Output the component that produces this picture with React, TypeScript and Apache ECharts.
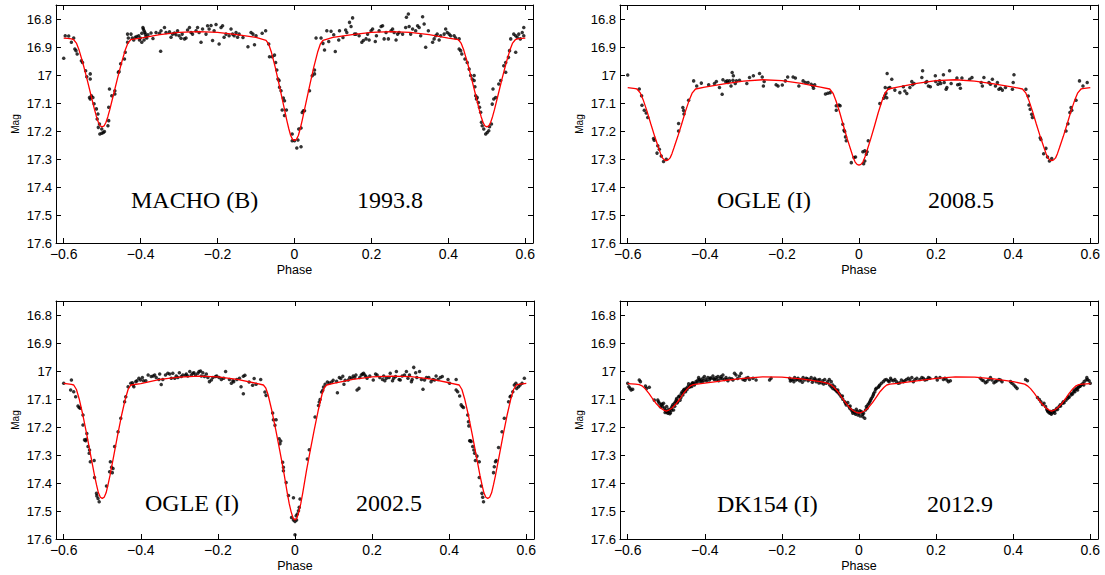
import React, { useEffect, useRef } from "react";
import * as echarts from "echarts";

// ---------- tick values ----------
const phaseTicks = [-0.6, -0.4, -0.2, 0, 0.2, 0.4, 0.6];
const magTicks = [16.8, 16.9, 17, 17.1, 17.2, 17.3, 17.4, 17.5, 17.6];

// ---------- panel labels ----------
const panelSurveys = ["MACHO (B)", "OGLE (I)", "OGLE (I)", "DK154 (I)"];
const panelEpochs = ["1993.8", "2008.5", "2002.5", "2012.9"];

// ---------- MACHO (B) 1993.8 ----------
const macho1993Curve = [
  [-0.6, 16.868], [-0.59, 16.869], [-0.58, 16.871], [-0.574, 16.874], [-0.567, 16.886], [-0.56, 16.911], [-0.55, 16.958], [-0.54, 17.011], [-0.53, 17.067], [-0.52, 17.123], [-0.515, 17.148], [-0.51, 17.169], [-0.505, 17.182], [-0.5, 17.185], [-0.495, 17.182], [-0.49, 17.169], [-0.485, 17.148], [-0.48, 17.123], [-0.47, 17.067], [-0.46, 17.011], [-0.45, 16.958], [-0.44, 16.911], [-0.433, 16.886], [-0.426, 16.874],
  [-0.4, 16.868], [-0.35, 16.856], [-0.3, 16.848], [-0.25, 16.845], [-0.2, 16.848], [-0.15, 16.856], [-0.1, 16.866], [-0.074, 16.876],
  [-0.067, 16.89], [-0.06, 16.919], [-0.05, 16.973], [-0.04, 17.034], [-0.03, 17.098], [-0.02, 17.162], [-0.015, 17.191], [-0.01, 17.216], [-0.005, 17.23], [0, 17.234], [0.005, 17.23], [0.01, 17.216], [0.015, 17.191], [0.02, 17.162], [0.03, 17.098], [0.04, 17.034], [0.05, 16.973], [0.06, 16.919], [0.067, 16.89], [0.074, 16.876],
  [0.1, 16.866], [0.15, 16.856], [0.2, 16.848], [0.25, 16.845], [0.3, 16.848], [0.35, 16.856], [0.4, 16.868], [0.426, 16.874],
  [0.433, 16.886], [0.44, 16.911], [0.45, 16.958], [0.46, 17.011], [0.47, 17.067], [0.48, 17.123], [0.485, 17.148], [0.49, 17.169], [0.495, 17.182], [0.5, 17.185], [0.505, 17.182], [0.51, 17.169], [0.515, 17.148], [0.52, 17.123], [0.53, 17.067], [0.54, 17.011], [0.55, 16.958], [0.56, 16.911], [0.567, 16.886], [0.574, 16.874], [0.58, 16.871], [0.59, 16.869], [0.6, 16.868],
];
const macho1993Points = [
  [-0.6, 16.94], [-0.596, 16.86], [-0.587, 16.861], [-0.574, 16.868], [-0.58, 16.883], [-0.571, 16.907], [-0.568, 16.913], [-0.565, 16.925], [-0.554, 16.949], [-0.551, 16.955], [-0.543, 16.985], [-0.54, 17.006], [-0.531, 16.996], [-0.531, 17.014], [-0.533, 17.08], [-0.528, 17.074], [-0.531, 17.086], [-0.524, 17.08], [-0.521, 17.103], [-0.515, 17.121], [-0.511, 17.139], [-0.513, 17.157], [-0.507, 17.175], [-0.51, 17.187], [-0.506, 17.211], [-0.501, 17.208], [-0.497, 17.205], [-0.494, 17.202], [-0.501, 17.193], [-0.485, 17.181], [-0.483, 17.163], [-0.483, 17.115], [-0.481, 17.05], [-0.475, 17.074], [-0.467, 17.068], [-0.467, 17.056], [-0.458, 16.99], [-0.456, 16.988], [-0.452, 16.96], [-0.442, 16.943], [-0.44, 16.919], [-0.434, 16.854], [-0.432, 16.868], [-0.434, 16.883],
  [-0.425, 16.854], [-0.422, 16.868], [-0.418, 16.875], [-0.414, 16.865], [-0.41, 16.863], [-0.405, 16.86], [-0.403, 16.875], [-0.401, 16.868], [-0.397, 16.851], [-0.394, 16.83], [-0.393, 16.836], [-0.391, 16.842], [-0.389, 16.848], [-0.388, 16.854], [-0.386, 16.863], [-0.384, 16.868], [-0.391, 16.875], [-0.397, 16.883], [-0.381, 16.856], [-0.373, 16.85], [-0.368, 16.87], [-0.36, 16.848], [-0.351, 16.851], [-0.347, 16.842], [-0.348, 16.915], [-0.338, 16.83], [-0.334, 16.848], [-0.325, 16.846], [-0.321, 16.865], [-0.317, 16.854], [-0.312, 16.85], [-0.308, 16.856], [-0.304, 16.842], [-0.3, 16.86], [-0.295, 16.869], [-0.292, 16.854], [-0.286, 16.871], [-0.282, 16.868], [-0.278, 16.839], [-0.273, 16.83], [-0.269, 16.848], [-0.265, 16.854], [-0.256, 16.842], [-0.252, 16.83], [-0.248, 16.848], [-0.243, 16.883], [-0.239, 16.836], [-0.23, 16.854], [-0.226, 16.824], [-0.222, 16.836], [-0.217, 16.823], [-0.213, 16.877], [-0.209, 16.842], [-0.204, 16.82], [-0.196, 16.889], [-0.191, 16.83], [-0.187, 16.824], [-0.183, 16.865], [-0.178, 16.854], [-0.17, 16.86], [-0.165, 16.836], [-0.161, 16.854], [-0.157, 16.86], [-0.152, 16.848], [-0.148, 16.865], [-0.144, 16.854],
  [-0.134, 16.866], [-0.121, 16.899], [-0.113, 16.848], [-0.108, 16.854], [-0.104, 16.892], [-0.1, 16.86], [-0.084, 16.851], [-0.075, 16.842], [-0.067, 16.889], [-0.065, 16.935], [-0.058, 16.935], [-0.052, 16.929], [-0.049, 16.955], [-0.046, 16.982], [-0.043, 17.014], [-0.04, 17.02], [-0.039, 17.044], [-0.035, 17.056], [-0.029, 17.082], [-0.026, 17.092], [-0.032, 17.125], [-0.021, 17.125], [-0.026, 17.145], [-0.006, 17.211], [-0.006, 17.235], [0, 17.235], [0.009, 17.232], [0.006, 17.261], [0.017, 17.256], [0.011, 17.193], [0.017, 17.189], [0.02, 17.134], [0.023, 17.128], [0.026, 17.128], [0.039, 17.056], [0.046, 17.003], [0.052, 16.982], [0.052, 16.996], [0.056, 16.868], [0.069, 16.868], [0.074, 16.887], [0.078, 16.911], [0.084, 16.842], [0.095, 16.844], [0.089, 16.88], [0.102, 16.856], [0.106, 16.916], [0.115, 16.875], [0.117, 16.842], [0.126, 16.866], [0.133, 16.839], [0.136, 16.848],
  [0.143, 16.812], [0.147, 16.827], [0.151, 16.796], [0.156, 16.854], [0.16, 16.854], [0.168, 16.86], [0.175, 16.883], [0.179, 16.877], [0.186, 16.871], [0.19, 16.854], [0.194, 16.875], [0.199, 16.842], [0.203, 16.836], [0.21, 16.88], [0.213, 16.86], [0.22, 16.842], [0.225, 16.827], [0.229, 16.824], [0.233, 16.871], [0.238, 16.848], [0.244, 16.871], [0.251, 16.842], [0.255, 16.836], [0.259, 16.848], [0.264, 16.875], [0.268, 16.854], [0.272, 16.848], [0.281, 16.854], [0.289, 16.83], [0.291, 16.794], [0.296, 16.782], [0.298, 16.827], [0.302, 16.854], [0.307, 16.836], [0.315, 16.842], [0.32, 16.824], [0.324, 16.83], [0.328, 16.86], [0.333, 16.792], [0.337, 16.818], [0.341, 16.901], [0.348, 16.842], [0.359, 16.883], [0.363, 16.871], [0.367, 16.86], [0.371, 16.854], [0.376, 16.875], [0.38, 16.86], [0.389, 16.854], [0.393, 16.836], [0.397, 16.848], [0.402, 16.854], [0.406, 16.86], [0.415, 16.86], [0.419, 16.868], [0.428, 16.871],
  [0.428, 16.907], [0.432, 16.913], [0.435, 16.925], [0.443, 16.943], [0.449, 16.955], [0.454, 16.979], [0.458, 17.002], [0.462, 17.014], [0.467, 17.002], [0.467, 17.02], [0.469, 17.042], [0.471, 17.074], [0.473, 17.086], [0.475, 17.08], [0.478, 17.098], [0.481, 17.115], [0.484, 17.133], [0.486, 17.169], [0.488, 17.181], [0.492, 17.193], [0.497, 17.211], [0.501, 17.205], [0.505, 17.199], [0.507, 17.185], [0.512, 17.175], [0.514, 17.104], [0.516, 17.05], [0.518, 17.086], [0.523, 17.08], [0.531, 17.032], [0.536, 17.02], [0.544, 16.967], [0.549, 16.99], [0.549, 16.955], [0.556, 16.937], [0.559, 16.913], [0.562, 16.871], [0.57, 16.854], [0.575, 16.86], [0.579, 16.865], [0.583, 16.854], [0.587, 16.871], [0.592, 16.848], [0.596, 16.83], [0.575, 16.919], [0.596, 16.86],
];

// ---------- OGLE (I) 2008.5 ----------
const ogle2008Curve = [
  [-0.6, 17.045], [-0.59, 17.047], [-0.58, 17.049], [-0.576, 17.05], [-0.567, 17.065], [-0.56, 17.088], [-0.55, 17.129], [-0.54, 17.175], [-0.53, 17.219], [-0.52, 17.26], [-0.515, 17.28], [-0.51, 17.296], [-0.505, 17.303], [-0.5, 17.306], [-0.495, 17.303], [-0.49, 17.296], [-0.485, 17.28], [-0.48, 17.26], [-0.47, 17.219], [-0.46, 17.175], [-0.45, 17.129], [-0.44, 17.088], [-0.433, 17.065], [-0.424, 17.05],
  [-0.4, 17.043], [-0.35, 17.032], [-0.3, 17.022], [-0.25, 17.017], [-0.2, 17.02], [-0.15, 17.03], [-0.1, 17.043], [-0.076, 17.05],
  [-0.067, 17.066], [-0.06, 17.091], [-0.05, 17.134], [-0.04, 17.183], [-0.03, 17.23], [-0.02, 17.273], [-0.015, 17.295], [-0.01, 17.311], [-0.005, 17.319], [0, 17.322], [0.005, 17.319], [0.01, 17.311], [0.015, 17.295], [0.02, 17.273], [0.03, 17.23], [0.04, 17.183], [0.05, 17.134], [0.06, 17.091], [0.067, 17.066], [0.076, 17.05],
  [0.1, 17.043], [0.15, 17.03], [0.2, 17.02], [0.25, 17.017], [0.3, 17.022], [0.35, 17.032], [0.4, 17.043], [0.424, 17.05],
  [0.433, 17.065], [0.44, 17.088], [0.45, 17.129], [0.46, 17.175], [0.47, 17.219], [0.48, 17.26], [0.485, 17.28], [0.49, 17.296], [0.495, 17.303], [0.5, 17.306], [0.505, 17.303], [0.51, 17.296], [0.515, 17.28], [0.52, 17.26], [0.53, 17.219], [0.54, 17.175], [0.55, 17.129], [0.56, 17.088], [0.567, 17.065], [0.576, 17.05], [0.58, 17.049], [0.59, 17.047], [0.6, 17.045],
];
const ogle2008Points = [
  [-0.6, 17.0], [-0.57, 17.05], [-0.564, 17.074], [-0.563, 17.108], [-0.557, 17.126], [-0.552, 17.136], [-0.548, 17.152], [-0.533, 17.227], [-0.531, 17.233], [-0.522, 17.253], [-0.518, 17.265], [-0.524, 17.279], [-0.513, 17.289], [-0.507, 17.309], [-0.5, 17.301], [-0.468, 17.173], [-0.468, 17.2], [-0.457, 17.116], [-0.455, 17.127], [-0.454, 17.139], [-0.442, 17.09],
  [-0.429, 17.021], [-0.421, 17.039], [-0.409, 17.029], [-0.39, 17.035], [-0.375, 17.03], [-0.37, 17.023], [-0.362, 17.045], [-0.355, 17.069], [-0.353, 17.017], [-0.346, 17.023], [-0.342, 17.021], [-0.34, 17.027], [-0.336, 17.021], [-0.332, 17.039], [-0.329, 16.991], [-0.327, 17.019], [-0.326, 17.003], [-0.321, 17.03], [-0.318, 17.021], [-0.31, 17.019], [-0.291, 17.03], [-0.284, 17.009], [-0.274, 17.003], [-0.258, 16.995], [-0.251, 17.007], [-0.248, 17.039], [-0.246, 17.023], [-0.215, 17.035], [-0.21, 17.039], [-0.199, 17.036], [-0.191, 17.021], [-0.185, 17.007], [-0.171, 17.007], [-0.165, 17.011], [-0.156, 17.039], [-0.145, 17.021], [-0.139, 17.027], [-0.132, 17.027], [-0.124, 17.033], [-0.12, 17.039], [-0.118, 17.047], [-0.115, 17.035],
  [-0.087, 17.068], [-0.081, 17.065], [-0.075, 17.063], [-0.059, 17.11], [-0.052, 17.107], [-0.059, 17.126], [-0.049, 17.11], [-0.042, 17.176], [-0.039, 17.197], [-0.037, 17.202], [-0.033, 17.235], [-0.035, 17.221], [-0.02, 17.313], [-0.013, 17.295], [-0.009, 17.293], [0.01, 17.274], [0.015, 17.271], [0.019, 17.283], [0.021, 17.274], [0.015, 17.307], [0.012, 17.317], [0.024, 17.235],
  [0.054, 17.102], [0.064, 17.083], [0.067, 17.074], [0.07, 17.065], [0.072, 17.081], [0.068, 17.045], [0.076, 17.047], [0.073, 16.995], [0.085, 17.015], [0.08, 17.045], [0.093, 17.054], [0.106, 17.063], [0.115, 17.042], [0.119, 17.057], [0.124, 17.066], [0.132, 17.045], [0.137, 17.023], [0.139, 17.035], [0.143, 17.03],
  [0.163, 17.009], [0.165, 16.985], [0.173, 17.027], [0.176, 17.023], [0.18, 17.039], [0.185, 17.042], [0.198, 17.003], [0.199, 17.023], [0.205, 17.033], [0.209, 17.021], [0.212, 17.03], [0.219, 16.999], [0.221, 17.027], [0.226, 17.051], [0.228, 17.045], [0.235, 16.985], [0.239, 17.03], [0.254, 17.011], [0.256, 17.035], [0.261, 17.033], [0.263, 17.047], [0.267, 17.011], [0.287, 17.015], [0.293, 17.009], [0.317, 17.027], [0.32, 17.039], [0.324, 17.009], [0.337, 17.027], [0.341, 17.033], [0.346, 17.015], [0.354, 17.039], [0.359, 17.027], [0.363, 17.051], [0.367, 17.047], [0.372, 17.054], [0.38, 17.045], [0.398, 17.051], [0.4, 17.027], [0.402, 16.999],
  [0.433, 17.051], [0.439, 17.075], [0.441, 17.107], [0.444, 17.122], [0.448, 17.14], [0.45, 17.152], [0.47, 17.224], [0.472, 17.23], [0.479, 17.281], [0.485, 17.262], [0.489, 17.293], [0.494, 17.307], [0.5, 17.298], [0.537, 17.2], [0.542, 17.174], [0.547, 17.134], [0.55, 17.116], [0.552, 17.126], [0.563, 17.09], [0.572, 17.021], [0.581, 17.039], [0.592, 17.027],
];

// ---------- OGLE (I) 2002.5 ----------
const ogle2002Curve = [
  [-0.6, 17.044], [-0.59, 17.046], [-0.58, 17.048], [-0.574, 17.05], [-0.567, 17.066], [-0.56, 17.099], [-0.55, 17.159], [-0.54, 17.228], [-0.53, 17.301], [-0.52, 17.374], [-0.515, 17.406], [-0.51, 17.435], [-0.505, 17.451], [-0.5, 17.455], [-0.495, 17.451], [-0.49, 17.435], [-0.485, 17.406], [-0.48, 17.374], [-0.47, 17.301], [-0.46, 17.228], [-0.45, 17.159], [-0.44, 17.099], [-0.433, 17.066], [-0.426, 17.05],
  [-0.4, 17.045], [-0.35, 17.03], [-0.3, 17.022], [-0.25, 17.018], [-0.2, 17.021], [-0.15, 17.03], [-0.1, 17.044], [-0.082, 17.05],
  [-0.076, 17.06], [-0.07, 17.084], [-0.06, 17.142], [-0.05, 17.209], [-0.04, 17.281], [-0.03, 17.354], [-0.02, 17.436], [-0.015, 17.474], [-0.01, 17.503], [-0.005, 17.525], [0, 17.532], [0.005, 17.525], [0.01, 17.503], [0.015, 17.474], [0.02, 17.436], [0.03, 17.354], [0.04, 17.281], [0.05, 17.209], [0.06, 17.142], [0.07, 17.084], [0.076, 17.06], [0.082, 17.05],
  [0.1, 17.044], [0.15, 17.03], [0.2, 17.021], [0.25, 17.018], [0.3, 17.02], [0.35, 17.028], [0.4, 17.042], [0.426, 17.05],
  [0.433, 17.066], [0.44, 17.099], [0.45, 17.159], [0.46, 17.228], [0.47, 17.301], [0.48, 17.374], [0.485, 17.406], [0.49, 17.435], [0.495, 17.451], [0.5, 17.455], [0.505, 17.451], [0.51, 17.435], [0.515, 17.406], [0.52, 17.374], [0.53, 17.301], [0.54, 17.228], [0.55, 17.159], [0.56, 17.099], [0.567, 17.066], [0.574, 17.05], [0.58, 17.048], [0.59, 17.046], [0.6, 17.044],
];
const ogle2002Points = [
  [-0.6, 17.044], [-0.58, 17.032], [-0.582, 17.068], [-0.574, 17.074], [-0.569, 17.092], [-0.563, 17.125], [-0.56, 17.13], [-0.557, 17.133], [-0.55, 17.157], [-0.55, 17.193], [-0.546, 17.246], [-0.543, 17.249], [-0.541, 17.244], [-0.54, 17.223], [-0.537, 17.27], [-0.534, 17.294], [-0.533, 17.282], [-0.531, 17.324], [-0.521, 17.32], [-0.52, 17.38], [-0.515, 17.437], [-0.514, 17.446], [-0.511, 17.455], [-0.508, 17.467], [-0.489, 17.411], [-0.481, 17.36], [-0.479, 17.324], [-0.476, 17.344], [-0.474, 17.363], [-0.472, 17.348], [-0.468, 17.27], [-0.459, 17.217], [-0.452, 17.169], [-0.442, 17.11], [-0.439, 17.092], [-0.433, 17.056],
  [-0.426, 17.044], [-0.422, 17.042], [-0.42, 17.05], [-0.418, 17.056], [-0.413, 17.038], [-0.41, 17.035], [-0.405, 17.026], [-0.401, 17.032], [-0.396, 17.023], [-0.393, 17.035], [-0.387, 17.035], [-0.381, 17.014], [-0.373, 17.02], [-0.368, 17.018], [-0.364, 17.014], [-0.36, 17.023], [-0.353, 17.03], [-0.351, 17.011], [-0.347, 17.048], [-0.343, 17.03], [-0.336, 17.014], [-0.33, 17.008], [-0.325, 17.011], [-0.321, 17.026], [-0.317, 17.008], [-0.312, 17.026], [-0.308, 17.018], [-0.304, 17.023], [-0.3, 17.006], [-0.295, 17.02], [-0.291, 17.014], [-0.284, 17.015], [-0.282, 17.011], [-0.278, 17.018], [-0.273, 17.002], [-0.269, 17.014], [-0.265, 17.008], [-0.262, 17.006], [-0.258, 17.014], [-0.252, 17.008], [-0.249, 17.002], [-0.245, 17.0], [-0.243, 17.018], [-0.239, 17.006], [-0.235, 17.02], [-0.23, 17.011], [-0.226, 17.023], [-0.222, 17.038], [-0.217, 17.032], [-0.213, 17.023], [-0.206, 17.02], [-0.203, 17.018], [-0.197, 17.023], [-0.191, 17.03], [-0.185, 17.026], [-0.18, 17.002], [-0.17, 17.03], [-0.165, 17.044], [-0.161, 17.035], [-0.159, 17.038], [-0.151, 17.03], [-0.144, 17.026], [-0.14, 17.056],
  [-0.134, 17.019], [-0.13, 17.015], [-0.119, 17.039], [-0.11, 17.051], [-0.106, 17.027], [-0.101, 17.047], [-0.089, 17.03], [-0.078, 17.075], [-0.075, 17.087], [-0.134, 17.081],
  [-0.058, 17.15], [-0.056, 17.174], [-0.049, 17.174], [-0.052, 17.194], [-0.041, 17.242], [-0.039, 17.26], [-0.037, 17.25], [-0.032, 17.326], [-0.03, 17.344], [-0.03, 17.356], [-0.023, 17.398], [-0.017, 17.445], [-0.004, 17.453], [-0.009, 17.523], [-0.004, 17.532], [0, 17.537], [0.004, 17.532], [0.003, 17.517], [0.006, 17.511], [0.009, 17.499], [0.011, 17.487], [0.013, 17.457], [0, 17.585], [0.032, 17.314], [0.037, 17.281], [0.052, 17.164], [0.061, 17.123], [0.063, 17.111], [0.065, 17.102],
  [0.069, 17.075], [0.072, 17.069], [0.074, 17.057], [0.078, 17.047], [0.084, 17.039], [0.089, 17.043], [0.095, 17.039], [0.099, 17.033], [0.108, 17.037], [0.11, 17.078], [0.115, 17.023], [0.119, 17.027], [0.124, 17.019], [0.127, 17.047], [0.13, 17.033],
  [0.138, 17.032], [0.142, 17.023], [0.147, 17.026], [0.151, 17.018], [0.155, 17.023], [0.158, 17.014], [0.161, 17.068], [0.166, 17.062], [0.168, 17.023], [0.172, 17.014], [0.175, 17.011], [0.178, 17.008], [0.181, 17.014], [0.184, 17.02], [0.187, 17.026], [0.194, 17.018], [0.203, 17.032], [0.209, 17.011], [0.213, 17.014], [0.22, 17.023], [0.227, 17.03], [0.23, 17.018], [0.233, 17.035], [0.237, 17.026], [0.244, 17.023], [0.247, 17.008], [0.253, 17.035], [0.256, 17.026], [0.261, 17.02], [0.263, 17.002], [0.27, 17.03], [0.273, 17.032], [0.278, 17.018], [0.284, 17.014], [0.289, 17.002], [0.293, 17.026], [0.297, 17.014], [0.302, 17.038], [0.304, 17.03], [0.308, 16.987], [0.313, 17.006], [0.316, 17.023], [0.323, 17.002], [0.328, 17.03], [0.332, 17.065], [0.336, 17.032], [0.341, 17.023], [0.347, 17.023], [0.353, 17.038], [0.358, 17.03], [0.362, 17.032], [0.366, 17.018], [0.371, 17.03], [0.377, 17.023], [0.382, 17.02], [0.397, 17.03], [0.401, 17.044], [0.418, 17.03],
  [0.418, 17.068], [0.422, 17.074], [0.427, 17.089], [0.431, 17.121], [0.434, 17.127], [0.437, 17.13], [0.448, 17.157], [0.45, 17.181], [0.451, 17.196], [0.453, 17.249], [0.455, 17.249], [0.457, 17.252], [0.461, 17.27], [0.464, 17.282], [0.466, 17.294], [0.468, 17.32], [0.472, 17.304], [0.478, 17.324], [0.478, 17.38], [0.483, 17.411], [0.485, 17.437], [0.487, 17.451], [0.489, 17.467], [0.515, 17.363], [0.517, 17.342], [0.52, 17.324], [0.522, 17.32], [0.528, 17.273], [0.537, 17.217], [0.543, 17.169], [0.554, 17.11], [0.558, 17.092], [0.56, 17.089], [0.565, 17.074], [0.569, 17.05], [0.573, 17.044], [0.575, 17.062], [0.58, 17.056], [0.584, 17.05], [0.589, 17.044], [0.595, 17.026],
];

// ---------- DK154 (I) 2012.9 ----------
const dk2012Curve = [
  [-0.6, 17.045], [-0.58, 17.047], [-0.57, 17.049], [-0.563, 17.053], [-0.555, 17.063], [-0.545, 17.08], [-0.535, 17.1], [-0.525, 17.118], [-0.515, 17.132], [-0.505, 17.141], [-0.5, 17.143], [-0.495, 17.141], [-0.485, 17.132], [-0.475, 17.118], [-0.465, 17.1], [-0.455, 17.08], [-0.445, 17.063], [-0.437, 17.053], [-0.43, 17.049],
  [-0.4, 17.043], [-0.35, 17.034], [-0.3, 17.026], [-0.25, 17.021], [-0.2, 17.022], [-0.15, 17.028], [-0.1, 17.038], [-0.08, 17.044],
  [-0.072, 17.05], [-0.065, 17.058], [-0.055, 17.073], [-0.045, 17.093], [-0.035, 17.113], [-0.025, 17.13], [-0.015, 17.142], [-0.005, 17.149], [0, 17.15], [0.005, 17.149], [0.015, 17.142], [0.025, 17.13], [0.035, 17.113], [0.045, 17.093], [0.055, 17.073], [0.065, 17.058], [0.072, 17.05],
  [0.08, 17.047], [0.1, 17.044], [0.15, 17.035], [0.2, 17.026], [0.25, 17.021], [0.3, 17.022], [0.35, 17.028], [0.4, 17.038], [0.43, 17.047],
  [0.437, 17.053], [0.445, 17.063], [0.455, 17.08], [0.465, 17.1], [0.475, 17.118], [0.485, 17.132], [0.495, 17.141], [0.5, 17.143], [0.505, 17.141], [0.515, 17.132], [0.525, 17.118], [0.535, 17.1], [0.545, 17.08], [0.555, 17.063], [0.563, 17.053], [0.57, 17.049], [0.58, 17.047], [0.6, 17.045],
];
const dk2012Points = [
  [-0.6, 17.044], [-0.597, 17.056], [-0.594, 17.062], [-0.591, 17.068], [-0.587, 17.065], [-0.57, 17.032], [-0.567, 17.038], [-0.554, 17.054], [-0.551, 17.062], [-0.544, 17.058], [-0.531, 17.104],
  [-0.522, 17.104], [-0.518, 17.115], [-0.513, 17.121], [-0.509, 17.127], [-0.507, 17.115], [-0.505, 17.133], [-0.502, 17.139], [-0.5, 17.145], [-0.499, 17.127], [-0.496, 17.151], [-0.494, 17.137], [-0.492, 17.142], [-0.489, 17.149], [-0.487, 17.133], [-0.485, 17.127], [-0.483, 17.121], [-0.481, 17.139], [-0.479, 17.115], [-0.476, 17.11], [-0.474, 17.104], [-0.473, 17.098], [-0.47, 17.11], [-0.468, 17.092], [-0.466, 17.089], [-0.464, 17.104], [-0.461, 17.08], [-0.459, 17.074], [-0.457, 17.086], [-0.455, 17.068], [-0.453, 17.065], [-0.45, 17.074], [-0.448, 17.062], [-0.444, 17.056], [-0.442, 17.046], [-0.438, 17.054], [-0.436, 17.05], [-0.433, 17.044], [-0.431, 17.042], [-0.427, 17.05],
  [-0.52, 17.11], [-0.515, 17.128], [-0.511, 17.118], [-0.503, 17.148], [-0.497, 17.146], [-0.491, 17.153], [-0.486, 17.14], [-0.478, 17.126], [-0.472, 17.114], [-0.462, 17.095], [-0.456, 17.078], [-0.451, 17.07], [-0.446, 17.066], [-0.44, 17.058], [-0.434, 17.055], [-0.428, 17.045], [-0.42, 17.04], [-0.412, 17.037], [-0.403, 17.035], [-0.395, 17.036], [-0.386, 17.025], [-0.377, 17.028], [-0.369, 17.03], [-0.355, 17.027], [-0.343, 17.03], [-0.33, 17.028], [-0.315, 17.027], [-0.296, 17.033],
  [-0.423, 17.038], [-0.418, 17.032], [-0.416, 17.023], [-0.414, 17.03], [-0.41, 17.032], [-0.407, 17.038], [-0.405, 17.026], [-0.401, 17.02], [-0.397, 17.03], [-0.392, 17.023], [-0.388, 17.032], [-0.384, 17.026], [-0.379, 17.018], [-0.375, 17.03], [-0.371, 17.023], [-0.366, 17.02], [-0.364, 17.035], [-0.36, 17.026], [-0.358, 17.02], [-0.353, 17.014], [-0.349, 17.03], [-0.345, 17.023], [-0.34, 17.035], [-0.336, 17.026], [-0.327, 17.032], [-0.323, 17.008], [-0.319, 17.014], [-0.31, 17.018], [-0.306, 17.008], [-0.301, 17.03], [-0.293, 17.026], [-0.288, 17.023], [-0.284, 17.03], [-0.275, 17.026], [-0.267, 17.032], [-0.232, 17.032], [-0.228, 17.026],
  [-0.18, 17.026], [-0.176, 17.032], [-0.171, 17.03], [-0.167, 17.023], [-0.163, 17.032], [-0.158, 17.026], [-0.154, 17.035], [-0.15, 17.03], [-0.145, 17.023], [-0.141, 17.032], [-0.137, 17.026], [-0.132, 17.035], [-0.128, 17.03], [-0.124, 17.023], [-0.119, 17.032], [-0.115, 17.026], [-0.111, 17.038], [-0.106, 17.032], [-0.102, 17.03], [-0.098, 17.042], [-0.094, 17.035], [-0.089, 17.03], [-0.085, 17.044], [-0.081, 17.038], [-0.076, 17.05], [-0.072, 17.056], [-0.068, 17.062], [-0.063, 17.065], [-0.059, 17.068], [-0.055, 17.074],
  [-0.178, 17.036], [-0.169, 17.038], [-0.16, 17.029], [-0.147, 17.04], [-0.134, 17.028], [-0.121, 17.04], [-0.113, 17.031], [-0.104, 17.043], [-0.092, 17.046],
  [-0.077, 17.03], [-0.072, 17.038], [-0.068, 17.05], [-0.063, 17.056], [-0.061, 17.068], [-0.057, 17.074], [-0.055, 17.068], [-0.052, 17.08], [-0.049, 17.086], [-0.046, 17.092], [-0.043, 17.089], [-0.042, 17.101], [-0.037, 17.11], [-0.035, 17.115], [-0.033, 17.121], [-0.029, 17.113], [-0.026, 17.127], [-0.024, 17.133], [-0.023, 17.125], [-0.02, 17.139], [-0.017, 17.145], [-0.016, 17.151], [-0.014, 17.142], [-0.011, 17.149], [-0.009, 17.154], [-0.007, 17.137], [-0.005, 17.145], [-0.003, 17.157], [0, 17.151], [0.002, 17.142], [0.003, 17.161], [0.006, 17.145], [0.009, 17.154], [0.01, 17.163], [0.012, 17.151], [0.015, 17.169], [0.017, 17.139], [0.019, 17.127], [0.021, 17.133], [0.023, 17.121], [0.026, 17.115], [0.028, 17.11], [0.03, 17.104], [0.032, 17.098], [0.035, 17.092], [0.037, 17.086], [0.038, 17.08], [0.041, 17.074], [0.043, 17.065], [0.045, 17.062], [0.05, 17.058], [0.052, 17.054], [0.054, 17.05], [0.058, 17.044], [0.063, 17.038], [0.067, 17.032], [0.071, 17.03], [0.076, 17.035], [0.078, 17.038],
  [0.082, 17.026], [0.084, 17.032], [0.089, 17.035], [0.093, 17.03], [0.097, 17.038], [0.102, 17.044], [0.106, 17.042], [0.11, 17.032], [0.115, 17.038], [0.119, 17.035], [0.123, 17.03], [0.128, 17.026], [0.132, 17.032], [0.137, 17.023], [0.141, 17.038], [0.145, 17.03], [0.15, 17.026], [0.158, 17.03], [0.163, 17.023], [0.167, 17.026], [0.171, 17.032], [0.176, 17.03], [0.18, 17.023], [0.184, 17.026], [0.2, 17.023], [0.203, 17.032], [0.21, 17.023], [0.219, 17.03], [0.223, 17.026], [0.228, 17.032], [0.232, 17.038], [0.237, 17.035],
  [0.315, 17.026], [0.319, 17.032], [0.323, 17.035], [0.328, 17.042], [0.332, 17.038], [0.337, 17.03], [0.341, 17.023], [0.345, 17.032], [0.35, 17.042], [0.354, 17.038], [0.358, 17.035], [0.363, 17.03], [0.367, 17.032], [0.371, 17.038], [0.393, 17.038], [0.397, 17.044], [0.402, 17.05], [0.406, 17.056], [0.41, 17.062], [0.432, 17.03], [0.437, 17.035],
  [0.463, 17.095], [0.468, 17.102], [0.472, 17.11], [0.476, 17.12],
  [0.48, 17.115], [0.484, 17.127], [0.487, 17.137], [0.489, 17.142], [0.49, 17.145], [0.493, 17.149], [0.496, 17.151], [0.497, 17.145], [0.499, 17.154], [0.502, 17.149], [0.504, 17.142], [0.506, 17.145], [0.508, 17.151], [0.51, 17.139], [0.513, 17.133], [0.515, 17.137], [0.519, 17.127], [0.522, 17.121], [0.523, 17.125], [0.528, 17.115], [0.53, 17.11], [0.532, 17.113], [0.537, 17.104], [0.541, 17.098], [0.543, 17.092], [0.545, 17.094], [0.55, 17.086], [0.551, 17.08], [0.554, 17.082], [0.557, 17.074], [0.558, 17.068], [0.56, 17.074], [0.563, 17.065], [0.565, 17.062], [0.567, 17.068], [0.569, 17.058], [0.571, 17.056], [0.574, 17.054], [0.576, 17.05], [0.58, 17.046], [0.583, 17.05], [0.584, 17.038], [0.589, 17.032], [0.591, 17.023], [0.593, 17.03], [0.597, 17.035], [0.6, 17.044],
];

const panelCurves = [macho1993Curve, ogle2008Curve, ogle2002Curve, dk2012Curve];
const panelPoints = [macho1993Points, ogle2008Points, ogle2002Points, dk2012Points];

// ---------- layout (pixels) ----------
const GRID_BOXES = [
  { left: 56, top: 5, width: 477, height: 238 },
  { left: 620, top: 5, width: 478, height: 238 },
  { left: 56, top: 301, width: 478, height: 238 },
  { left: 620, top: 301, width: 478, height: 238 },
];
const LABEL_POS = [
  { survey: [131, 200], epoch: [357, 200] },
  { survey: [717, 200], epoch: [928, 200] },
  { survey: [145, 503], epoch: [356, 503] },
  { survey: [717, 504], epoch: [927, 504] },
];

const fmtPhase = (v: number) => {
  const r = Math.round(v * 10) / 10;
  return r < 0 ? "\u2212" + String(Math.abs(r)) : String(r);
};
const fmtMag = (v: number) => String(Math.round(v * 10) / 10);

export default function App() {
  const ref = useRef<HTMLDivElement>(null);
  useEffect(() => {
    if (!ref.current) return;
    const chart = echarts.init(ref.current, null, { renderer: "svg" });
    const axisLine = { show: true, onZero: false, lineStyle: { color: "#000", width: 1 } };
    const xAxes: any[] = [];
    const yAxes: any[] = [];
    const series: any[] = [];
    const graphics: any[] = [];
    GRID_BOXES.forEach((g, i) => {
      const common = {
        gridIndex: i,
        type: "value",
        min: -0.62,
        max: 0.62,
        splitLine: { show: false },
        axisLine,
      };
      xAxes.push({
        ...common,
        position: "bottom",
        name: "Phase",
        nameLocation: "middle",
        nameGap: 20,
        nameTextStyle: { fontSize: 12.5, fontFamily: "Liberation Sans", color: "#000" },
        axisTick: { show: true, inside: true, length: 5, customValues: phaseTicks, lineStyle: { color: "#000" } },
        axisLabel: {
          show: true,
          customValues: phaseTicks,
          formatter: fmtPhase,
          margin: 4,
          fontSize: 14,
          fontFamily: "Liberation Sans",
          color: "#000",
        },
      });
      xAxes.push({
        ...common,
        position: "top",
        axisTick: { show: true, inside: true, length: 5, customValues: phaseTicks, lineStyle: { color: "#000" } },
        axisLabel: { show: false },
      });
      const ycommon = {
        gridIndex: i,
        type: "value",
        min: 16.75,
        max: 17.6,
        inverse: true,
        splitLine: { show: false },
        axisLine,
      };
      yAxes.push({
        ...ycommon,
        position: "left",
        name: "Mag",
        nameLocation: "middle",
        nameGap: 36,
        nameTextStyle: { fontSize: 10, fontFamily: "Liberation Sans", color: "#000" },
        axisTick: { show: true, inside: true, length: 5, customValues: magTicks, lineStyle: { color: "#000" } },
        axisLabel: {
          show: true,
          customValues: magTicks,
          formatter: fmtMag,
          margin: 4,
          fontSize: 13,
          fontFamily: "Liberation Sans",
          color: "#000",
        },
      });
      yAxes.push({
        ...ycommon,
        position: "right",
        axisTick: { show: true, inside: true, length: 5, customValues: magTicks, lineStyle: { color: "#000" } },
        axisLabel: { show: false },
      });
      series.push({
        type: "scatter",
        xAxisIndex: 2 * i,
        yAxisIndex: 2 * i,
        data: panelPoints[i],
        symbol: "circle",
        symbolSize: 3.5,
        itemStyle: { color: "#000" },
        silent: true,
        z: 2,
      });
      series.push({
        type: "line",
        xAxisIndex: 2 * i,
        yAxisIndex: 2 * i,
        data: panelCurves[i],
        showSymbol: false,
        symbol: "none",
        lineStyle: { color: "#ff0000", width: 1.3 },
        silent: true,
        z: 3,
      });
      const p = LABEL_POS[i];
      graphics.push({
        type: "text",
        left: undefined,
        x: p.survey[0],
        y: p.survey[1],
        style: {
          text: panelSurveys[i],
          font: '24px "Liberation Serif"',
          fill: "#000",
          textAlign: "left",
          textVerticalAlign: "middle",
          verticalAlign: "middle",
        },
      });
      graphics.push({
        type: "text",
        x: p.epoch[0],
        y: p.epoch[1],
        style: {
          text: panelEpochs[i],
          font: '24px "Liberation Serif"',
          fill: "#000",
          textAlign: "left",
          textVerticalAlign: "middle",
          verticalAlign: "middle",
        },
      });
    });
    chart.setOption({
      animation: false,
      backgroundColor: "#fff",
      grid: GRID_BOXES.map((g) => ({ ...g, containLabel: false })),
      xAxis: xAxes,
      yAxis: yAxes,
      series,
      graphic: graphics,
    });
    return () => chart.dispose();
  }, []);
  return (
    <div
      ref={ref}
      style={{ position: "absolute", left: 0, top: 0, width: 1105, height: 575, background: "#fff" }}
    />
  );
}
